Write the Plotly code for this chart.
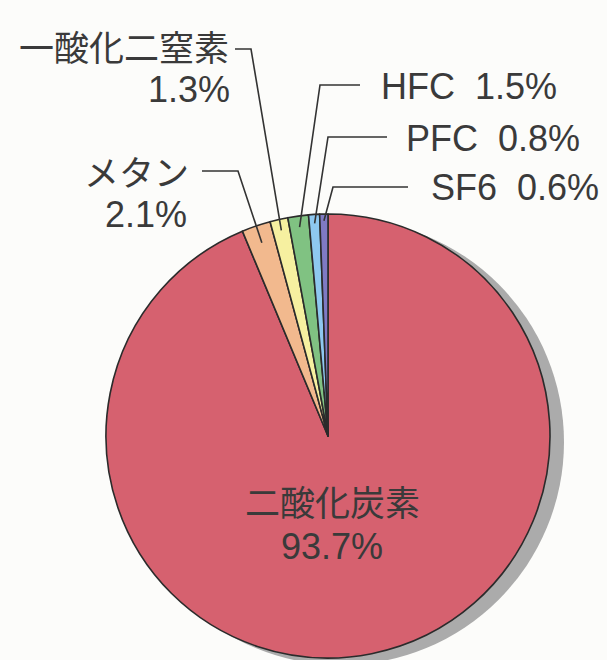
import math
import plotly.graph_objects as go

# ---- data ----
gases = ["二酸化炭素", "メタン", "一酸化二窒素", "HFC", "PFC", "SF6"]
shares = [93.7, 2.1, 1.3, 1.5, 0.8, 0.6]
pct_labels = ["93.7%", "2.1%", "1.3%", "1.5%", "0.8%", "0.6%"]
colors = ["#d6616f", "#f2b98e", "#f6f0a0", "#80c282", "#8ec8f0", "#7f7ac4"]

W, H = 607, 660
CX, CY, R = 328, 436, 222   # pie centre / radius in px


def px(x):
    return x / W


def py(y):
    return 1 - y / H


total = sum(shares)


def slice_point(i, frac):
    """point at the angular middle of slice i (clockwise from 12 o'clock), radius frac*R"""
    start = sum(shares[:i]) / total
    mid = start + shares[i] / total / 2
    ang = 2 * math.pi * mid
    return CX + frac * R * math.sin(ang), CY - frac * R * math.cos(ang)


fig = go.Figure()
fig.add_trace(go.Pie(
    labels=gases, values=shares, sort=False, direction="clockwise", rotation=0,
    marker=dict(colors=colors, line=dict(color="#2b2b2b", width=1.6)),
    textinfo="none", hoverinfo="label+percent", showlegend=False,
    domain=dict(x=[px(CX - R), px(CX + R)], y=[py(CY + R), py(CY - R)]),
))

shapes = []
# drop shadow
sx, sy = CX + 13, CY + 6
shapes.append(dict(type="circle", xref="paper", yref="paper", layer="below",
                   x0=px(sx - R - 1), x1=px(sx + R + 1), y0=py(sy + R + 1), y1=py(sy - R - 1),
                   fillcolor="#ababab", line=dict(width=0)))

LC = "#333333"
# leader lines: (slice index, radius fraction, bend point, horizontal end)
leaders = [
    (1, 0.92, (238, 171), (202, 171)),
    (2, 0.95, (251, 49), (235, 49)),
    (3, 0.95, (320, 85), (360, 85)),
    (4, 0.96, (328, 137), (387, 137)),
    (5, 0.97, (333, 187), (408, 187)),
]
for i, fr, (bx, by), (ex, ey) in leaders:
    x0, y0 = slice_point(i, fr)
    path = f"M {px(x0)} {py(y0)} L {px(bx)} {py(by)} L {px(ex)} {py(ey)}"
    shapes.append(dict(type="path", xref="paper", yref="paper", path=path,
                       line=dict(color=LC, width=1.6)))

FONT = "Liberation Sans, Noto Sans CJK JP, sans-serif"
TC = "#3a3a3a"


def ann(text, x, y, anchor, size):
    return dict(text=text, x=px(x), y=py(y), xref="paper", yref="paper",
                xanchor=anchor, yanchor="middle", showarrow=False,
                font=dict(family=FONT, size=size, color=TC))


annotations = [
    ann(gases[2], 231, 48, "right", 35),
    ann(pct_labels[2], 232, 89, "right", 36),
    ann(gases[1], 191, 173, "right", 35),
    ann(pct_labels[1], 189, 214, "right", 36),
    ann(gases[3] + "  " + pct_labels[3], 379, 86, "left", 36),
    ann(gases[4] + "  " + pct_labels[4], 404, 138, "left", 36),
    ann(gases[5] + "  " + pct_labels[5], 429, 187, "left", 36),
    ann(gases[0], 332, 503, "center", 35),
    ann(pct_labels[0], 332, 546, "center", 36),
]

fig.update_layout(
    width=W, height=H, margin=dict(l=0, r=0, t=0, b=0),
    paper_bgcolor="#fcfcfa", plot_bgcolor="#fcfcfa",
    shapes=shapes, annotations=annotations, showlegend=False,
)

fig.write_html("out.html", config={"displayModeBar": False},
               post_script="document.body.style.margin='0';document.body.style.background='#fcfcfa';")
